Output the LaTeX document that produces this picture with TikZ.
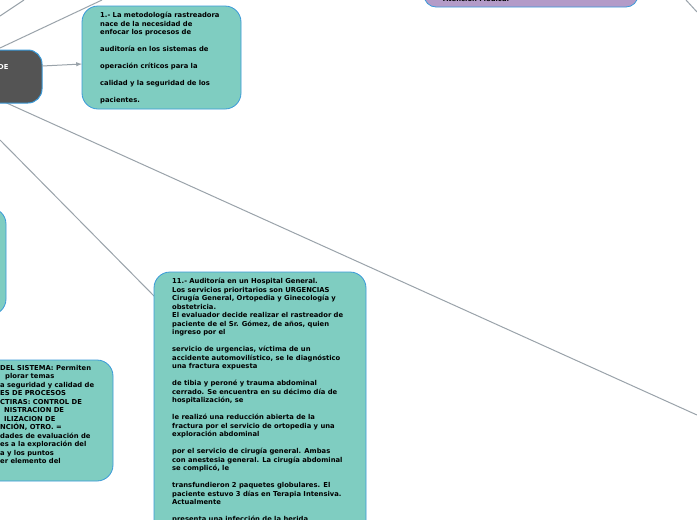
\documentclass[tikz,border=0pt]{standalone}
\usepackage{fontspec}
\setmainfont{DejaVu Sans}
\begin{document}
\begin{tikzpicture}[x=1pt,y=-1pt,
 teal/.style={draw=boxb,fill=tealf,line width=0.8pt,rounded corners=16pt},
 conn/.style={draw=lineg,line width=1pt},
 txt/.style={anchor=north west,align=left,inner sep=0pt,font=\fontsize{6.8}{8.5}\selectfont\bfseries}]
\definecolor{tealf}{HTML}{7FCDC1}
\definecolor{boxb}{HTML}{3A9AD9}
\definecolor{lineg}{HTML}{9AA3AA}
\definecolor{purp}{HTML}{B39BC8}
\useasboundingbox (0,0) rectangle (697,520);
\clip (0,0) rectangle (697,520);
\fill[white] (0,0) rectangle (697,520);
% connectors
\coordinate (c1) at (0,16); \coordinate (e1) at (24,0);
\draw[conn] (c1) -- (e1);
\coordinate (c2) at (0,48); \coordinate (e2) at (102,0);
\draw[conn] (c2) -- (e2);
\coordinate (c3) at (0,100); \coordinate (e3) at (697,415);
\draw[conn] (c3) -- (e3);
\coordinate (c4) at (0,140); \coordinate (e4) at (155,297);
\draw[conn] (c4) -- (e4);
\coordinate (c5) at (686,0); \coordinate (e5) at (697,12);
\draw[conn] (c5) -- (e5);
% boxes
\draw[draw=boxb,fill=purp,line width=0.8pt,rounded corners=12pt] (424,-30) rectangle (638,7);
\node[txt] (pt) at (443,-4) {Atención Médica.};
\draw[draw=boxb,fill=black!67,line width=1pt,rounded corners=14pt] (-30,50) rectangle (42,103);
\node[txt,text=white] (ct) at (-2,64) {DE};
\coordinate (ca) at (42,66);
\draw[teal] (82,6) rectangle (241,109);
\coordinate (b1) at (82,64);
\draw[conn,-latex] (ca) -- (b1);
\node[txt] (t1) at (100,12) {1.- La metodología rastreadora\\nace de la necesidad de\\enfocar los procesos de\\[8.5pt]auditoría en los sistemas de\\[8.5pt]operación críticos para la\\[8.5pt]calidad y la seguridad de los\\[8.5pt]pacientes.};
\draw[teal] (-40,208) rectangle (6,315);
\draw[teal] (-40,360) rectangle (113,481);
\node[txt] (t3) at (0,365) {DEL SISTEMA: Permiten\\\hspace{5pt}plorar temas\\a seguridad y calidad de\\ES DE PROCESOS\\CTIRAS: CONTROL DE\\\hspace{4pt}NISTRACION DE\\\hspace{4pt}ILIZACION DE\\NCIÓN, OTRO. =\\dades de evaluación de\\es a la exploración del\\a y los puntos\\er elemento del};
\draw[teal] (154,272) rectangle (366,560);
\node[txt] (t11) at (172,278) {11.- Auditoría en un Hospital  General.\\Los servicios prioritarios son URGENCIAS\\Cirugía General, Ortopedia y Ginecología y\\obstetricia.\\El evaluador decide realizar el rastreador de\\paciente de el Sr. Gómez, de años, quien\\ingreso por el\\[8.5pt]servicio de urgencias, víctima de un\\accidente automovilístico, se le diagnóstico\\una fractura expuesta\\[8.5pt]de tibia y peroné y trauma abdominal\\cerrado. Se encuentra en su décimo día de\\hospitalización, se\\[8.5pt]le realizó una reducción abierta de la\\fractura por el servicio de ortopedia y una\\exploración abdominal\\[8.5pt]por el servicio de cirugía general. Ambas\\con anestesia general. La cirugía abdominal\\se complicó, le\\[8.5pt]transfundieron 2 paquetes globulares. El\\paciente estuvo 3 días en Terapia Intensiva.\\Actualmente\\[8.5pt]presenta una infección de la herida};
\end{tikzpicture}
\end{document}
